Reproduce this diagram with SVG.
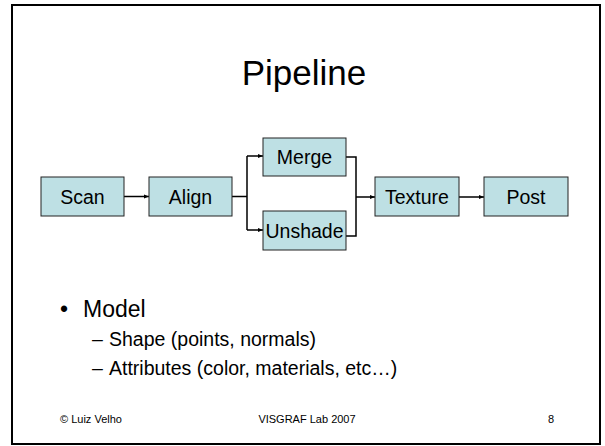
<svg xmlns="http://www.w3.org/2000/svg" width="605" height="446" viewBox="0 0 605 446">
<style>
text{font-family:"Liberation Sans",Arial,sans-serif;fill:#000}
.box{fill:#BEE0E4;stroke:#222;stroke-width:1}
.lbl{font-size:19.5px;text-anchor:middle}
.con{fill:none;stroke:#000;stroke-width:1.5}
.body1{font-size:23px}
.body2{font-size:19.5px}
.foot{font-size:11px}
</style>
<defs>
<marker id="ah" viewBox="0 0 10 10" refX="10" refY="5" markerWidth="5" markerHeight="5" markerUnits="userSpaceOnUse" orient="auto">
<path d="M0,1 L10,5 L0,9 z" fill="#000"/>
</marker>
</defs>
<rect x="0" y="0" width="605" height="446" fill="#fff"/>
<rect x="12" y="5" width="588" height="439" fill="none" stroke="#000" stroke-width="2"/>
<text x="304" y="85" font-size="35" text-anchor="middle">Pipeline</text>
<g id="connectors">
<path class="con" d="M124,196.5 L149,196.5" marker-end="url(#ah)"/>
<path class="con" d="M232,196.5 L247,196.5 M247,156 L247,230"/>
<path class="con" d="M247,156 L263,156" marker-end="url(#ah)"/>
<path class="con" d="M247,230 L263,230" marker-end="url(#ah)"/>
<path class="con" d="M346,157 L356,157 L356,236 L346,236"/>
<path class="con" d="M356,197 L375,197" marker-end="url(#ah)"/>
<path class="con" d="M459,197 L484,197" marker-end="url(#ah)"/>
</g>
<g id="scan"><rect class="box" x="41" y="177" width="83" height="39"/><text class="lbl" x="82.5" y="204">Scan</text></g>
<g id="align"><rect class="box" x="149" y="177" width="83" height="39"/><text class="lbl" x="190.5" y="204">Align</text></g>
<g id="merge"><rect class="box" x="263" y="138" width="83" height="38"/><text class="lbl" x="304.5" y="164">Merge</text></g>
<g id="unshade"><rect class="box" x="263" y="211" width="83" height="39"/><text class="lbl" x="304.5" y="237.5">Unshade</text></g>
<g id="texture"><rect class="box" x="375" y="177" width="84" height="39"/><text class="lbl" x="417" y="204">Texture</text></g>
<g id="post"><rect class="box" x="484" y="177" width="84" height="39"/><text class="lbl" x="526" y="204">Post</text></g>
<text class="body1" x="60" y="317">•</text>
<text class="body1" x="83" y="317">Model</text>
<text class="body2" x="92" y="346">–</text>
<text class="body2" x="109" y="346">Shape (points, normals)</text>
<text class="body2" x="92" y="375">–</text>
<text class="body2" x="109" y="375">Attributes (color, materials, etc…)</text>
<text class="foot" x="60" y="423">© Luiz Velho</text>
<text class="foot" x="307" y="423" text-anchor="middle">VISGRAF Lab 2007</text>
<text class="foot" x="554" y="423" text-anchor="end">8</text>
</svg>
